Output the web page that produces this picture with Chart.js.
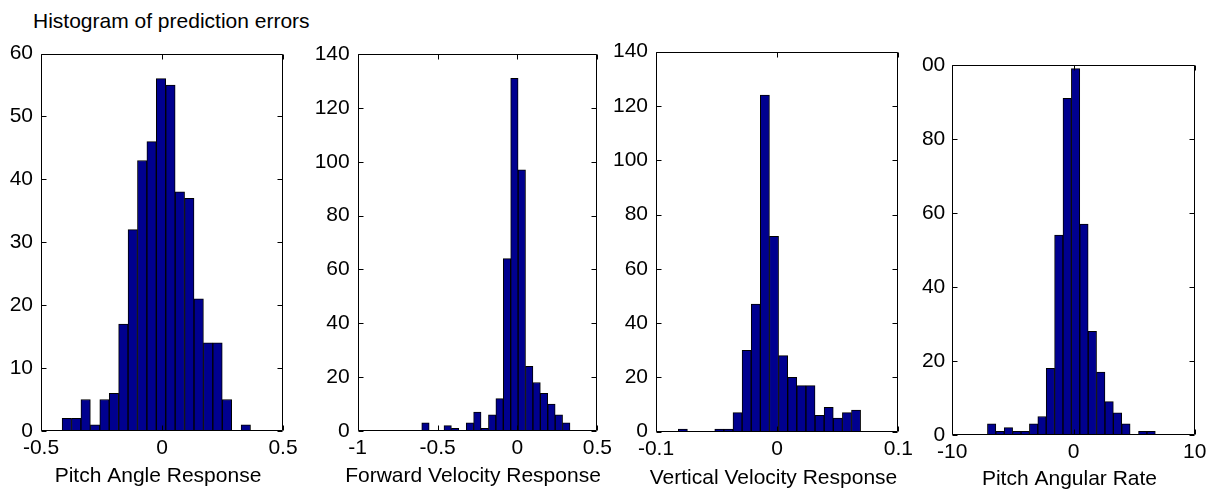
<!DOCTYPE html>
<html>
<head>
<meta charset="utf-8">
<script src="https://cdn.jsdelivr.net/npm/chart.js@4.4.1/dist/chart.umd.min.js"></script>
<style>
  html, body { margin: 0; padding: 0; background: #fff; }
  body { width: 1213px; height: 495px; position: relative; overflow: hidden; }
  .panel { position: absolute; top: 0; height: 495px; }
  #mainTitle {
    position: absolute; left: 33px; top: 10px;
    font: 21px "Liberation Sans", Arial, sans-serif; line-height: 21px; color: #000;
    white-space: nowrap;
  }
</style>
</head>
<body>
<div id="mainTitle">Histogram of prediction errors</div>
<div class="panel" id="p1"><canvas id="c1"></canvas></div>
<div class="panel" id="p2"><canvas id="c2"></canvas></div>
<div class="panel" id="p3"><canvas id="c3"></canvas></div>
<div class="panel" id="p4"><canvas id="c4"></canvas></div>
<script>
// bin centres and counts
const pitchBins = [-0.3933, -0.3544, -0.3155, -0.2765, -0.2376, -0.1987, -0.1597, -0.1208, -0.0819, -0.0430,
                   -0.0040, 0.0349, 0.0738, 0.1128, 0.1517, 0.1906, 0.2295, 0.2685, 0.3074, 0.3463];
const pitchCounts = [2, 2, 5, 1, 5, 6, 17, 32, 43, 46, 56, 55, 38, 37, 21, 14, 14, 5, 0, 1];

const fwdBins = [-0.5758, -0.5294, -0.4830, -0.4366, -0.3902, -0.3438, -0.2974, -0.2510, -0.2046, -0.1582,
                 -0.1118, -0.0654, -0.0190, 0.0274, 0.0738, 0.1202, 0.1666, 0.2130, 0.2594, 0.3058];
const fwdCounts = [3, 0, 0, 2, 1, 0, 3, 7, 1, 6, 12, 64, 131, 97, 24, 18, 14, 10, 6, 3];

const vertBins = [-0.07784, -0.07032, -0.06279, -0.05527, -0.04774, -0.04022, -0.03269, -0.02517, -0.01764, -0.01012,
                  -0.00259, 0.00493, 0.01246, 0.01998, 0.02751, 0.03503, 0.04256, 0.05008, 0.05761, 0.06513];
const vertCounts = [1, 0, 0, 0, 1, 1, 7, 30, 47, 124, 72, 28, 20, 17, 17, 6, 9, 5, 7, 8];

const rateBins = [-6.754, -6.061, -5.369, -4.676, -3.984, -3.291, -2.599, -1.906, -1.214, -0.521,
                  0.171, 0.864, 1.556, 2.249, 2.941, 3.634, 4.326, 5.019, 5.711, 6.404];
const rateCounts = [3, 1, 2, 1, 1, 3, 5, 18, 54, 91, 99, 57, 28, 17, 9, 6, 3, 0, 1, 1];

// tick values
const pitchXTicks = [-0.5, 0, 0.5];
const pitchYTicks = [0, 10, 20, 30, 40, 50, 60];
const fwdXTicks = [-1, -0.5, 0, 0.5];
const fwdYTicks = [0, 20, 40, 60, 80, 100, 120, 140];
const vertXTicks = [-0.1, 0, 0.1];
const vertYTicks = [0, 20, 40, 60, 80, 100, 120, 140];
const rateXTicks = [-10, 0, 10];
const rateYTicks = [0, 20, 40, 60, 80, 100];

const labels = ['Pitch Angle Response', 'Forward Velocity Response', 'Vertical Velocity Response', 'Pitch Angular Rate'];

const H = 495;
const FONT = { family: '"Liberation Sans", Arial, sans-serif', size: 21 };

// plot box (l, r, t, b) in page pixels, the canvas span and where the axis label sits
const panels = [
  { id: 'c1', box: 'p1', left: 0,   width: 299, l: 41,    r: 283,    t: 53.5, b: 431,   yPad: 8,
    labelX: 158, labelY: 476,
    bins: pitchBins, counts: pitchCounts, xTicks: pitchXTicks, yTicks: pitchYTicks, label: labels[0] },
  { id: 'c2', box: 'p2', left: 313, width: 301, l: 357.7, r: 597.3,  t: 54,   b: 431,   yPad: 8,
    labelX: 473, labelY: 476.5,
    bins: fwdBins, counts: fwdCounts, xTicks: fwdXTicks, yTicks: fwdYTicks, label: labels[1] },
  { id: 'c3', box: 'p3', left: 611, width: 304, l: 656,   r: 898.3,  t: 51.7, b: 431.7, yPad: 8,
    labelX: 773.5, labelY: 478,
    bins: vertBins, counts: vertCounts, xTicks: vertXTicks, yTicks: vertYTicks, label: labels[2] },
  { id: 'c4', box: 'p4', left: 921, width: 290, l: 952.3, r: 1194.7, t: 65,   b: 435,   yPad: 7,
    labelX: 1069.5, labelY: 479,
    bins: rateBins, counts: rateCounts, xTicks: rateXTicks, yTicks: rateYTicks, label: labels[3] }
];

// MATLAB-like box with inward ticks on all four sides, plus the x label
const boxTicks = {
  id: 'boxTicks',
  afterDatasetsDraw(chart, args, opts) {
    const { ctx, chartArea: a, scales: { x, y } } = chart;
    const L = Math.round(a.left) + 0.5, R = Math.round(a.right) - 0.5;
    const T = Math.round(a.top) + 0.5, B = Math.round(a.bottom) - 0.5;
    const len = 5;
    ctx.save();
    ctx.strokeStyle = '#000';
    ctx.lineWidth = 1;
    ctx.beginPath();
    ctx.rect(L, T, R - L, B - T);
    x.ticks.forEach(t => {
      const px = Math.round(x.getPixelForValue(t.value)) + 0.5;
      ctx.moveTo(px, B); ctx.lineTo(px, B - len);
      ctx.moveTo(px, T); ctx.lineTo(px, T + len);
    });
    y.ticks.forEach(t => {
      const py = Math.round(y.getPixelForValue(t.value)) + 0.5;
      ctx.moveTo(L, py); ctx.lineTo(L + len, py);
      ctx.moveTo(R, py); ctx.lineTo(R - len, py);
    });
    ctx.stroke();

    if (opts.text) {
      ctx.font = `${FONT.size}px ${FONT.family}`;
      ctx.fillStyle = '#000';
      ctx.textAlign = 'center';
      ctx.textBaseline = 'middle';
      ctx.fillText(opts.text, opts.x, opts.y);
    }
    ctx.restore();
  }
};

panels.forEach(p => {
  const wrap = document.getElementById(p.box);
  wrap.style.left = p.left + 'px';
  wrap.style.width = p.width + 'px';

  const yw = p.l - p.left;
  const rp = p.left + p.width - p.r;
  const xh = H - p.b;

  new Chart(document.getElementById(p.id).getContext('2d'), {
    type: 'bar',
    data: {
      datasets: [{
        data: p.bins.map((c, i) => ({ x: c, y: p.counts[i] })),
        backgroundColor: '#00008f',
        borderColor: '#000',
        borderWidth: 1,
        barPercentage: 1,
        categoryPercentage: 1
      }]
    },
    options: {
      responsive: true,
      maintainAspectRatio: false,
      devicePixelRatio: 1,
      animation: false,
      layout: { padding: { left: 0, right: rp, top: p.t, bottom: 0 } },
      plugins: {
        legend: { display: false },
        tooltip: { enabled: false },
        boxTicks: { text: p.label, x: p.labelX - p.left, y: p.labelY }
      },
      scales: {
        x: {
          type: 'linear',
          min: p.xTicks[0],
          max: p.xTicks[p.xTicks.length - 1],
          offset: false,
          grid: { display: false, drawTicks: false },
          border: { display: false },
          afterBuildTicks: s => { s.ticks = p.xTicks.map(v => ({ value: v })); },
          afterFit: s => { s.height = xh; s.paddingLeft = 0; s.paddingRight = 0; },
          ticks: { font: FONT, color: '#000', padding: 5, maxRotation: 0, autoSkip: false, callback: v => String(v) }
        },
        y: {
          min: 0,
          max: p.yTicks[p.yTicks.length - 1],
          grid: { display: false, drawTicks: false },
          border: { display: false },
          afterBuildTicks: s => { s.ticks = p.yTicks.map(v => ({ value: v })); },
          afterFit: s => { s.width = yw; s.paddingTop = 0; s.paddingBottom = 0; },
          ticks: { font: FONT, color: '#000', padding: p.yPad, autoSkip: false, callback: v => String(v) }
        }
      }
    },
    plugins: [boxTicks]
  });
});
</script>
</body>
</html>
